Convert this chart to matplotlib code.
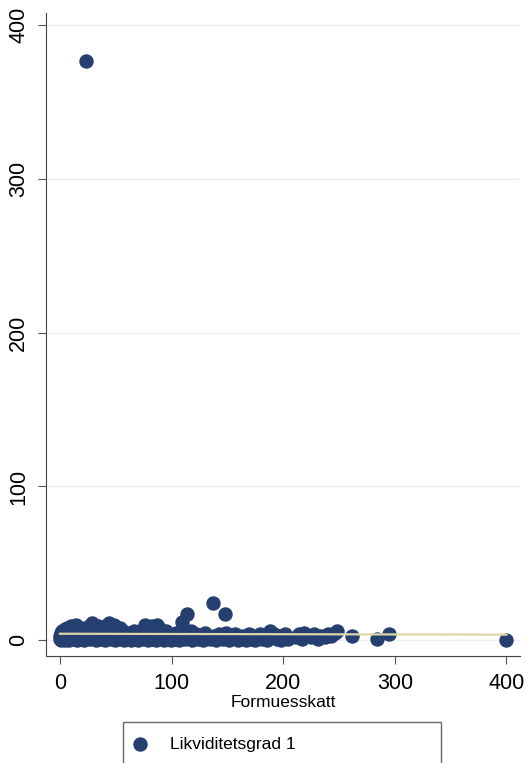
import numpy as np
import matplotlib.pyplot as plt

plt.rcParams['font.family'] = ['Liberation Sans', 'DejaVu Sans']

# Formuesskatt (x) vs Likviditetsgrad 1 (y)
formuesskatt = [0, 0, 1, 1, 2, 2, 3, 3, 4, 4, 5, 5, 6, 6, 7, 8, 8, 9, 10, 10,
                11, 12, 13, 14, 15, 15, 16, 17, 18, 19, 20, 21, 22, 23, 24, 25,
                26, 27, 28, 29, 30, 31, 32, 33, 34, 35, 36, 37, 38, 39, 40, 41,
                42, 43, 44, 45, 46, 47, 48, 49, 50, 51, 52, 53, 54, 55, 56, 57,
                58, 59, 60, 61, 62, 63, 64, 65, 66, 67, 68, 69, 70, 71, 72, 73,
                74, 75, 76, 77, 78, 79, 80, 81, 82, 83, 84, 85, 86, 87, 88, 89,
                90, 91, 92, 93, 94, 95, 96, 97, 98, 99, 100, 102, 104, 105, 107,
                109, 110, 112, 114, 115, 117, 118, 120, 122, 124, 126, 128, 130,
                132, 134, 137, 138, 140, 142, 144, 146, 148, 149, 151, 153, 155,
                157, 159, 161, 163, 165, 167, 169, 171, 173, 175, 177, 179, 181,
                183, 185, 187, 188, 190, 192, 194, 196, 198, 200, 202, 204, 211,
                214, 217, 219, 222, 225, 228, 231, 234, 237, 240, 243, 246, 248,
                262, 284, 295, 400]
likviditet = [1, 3, 0, 5, 2, 6, 1, 4, 0, 7, 2, 5, 1, 8, 3, 0, 6, 2, 4, 9,
              1, 6, 3, 10, 0, 7, 2, 5, 1, 8, 3, 0, 6, 377, 2, 4,
              9, 1, 5, 11, 2, 7, 0, 4, 9, 2, 6, 1, 3, 8, 0, 5,
              10, 2, 11, 6, 1, 4, 10, 0, 7, 3, 5, 1, 8, 2, 6, 0,
              4, 3, 1, 5, 2, 4, 0, 3, 6, 1, 2, 5, 0, 3, 6, 1,
              4, 8, 10, 2, 5, 0, 7, 3, 9, 1, 4, 6, 0, 10, 2, 8,
              4, 1, 5, 0, 3, 6, 1, 2, 4, 0, 3, 1, 5, 2, 0,
              12, 4, 1, 17, 3, 6, 0, 2, 4, 1, 3, 0, 5,
              2, 1, 24, 3, 0, 4, 2, 1, 17, 5, 0, 3, 2,
              4, 0, 1, 3, 2, 0, 4, 1, 3, 0, 2, 4, 1,
              3, 0, 5, 6, 2, 4, 1, 3, 0, 2, 4, 1, 2,
              4, 1, 5, 3, 2, 4, 1, 3, 2, 4, 3, 5, 6,
              3, 1, 4, 0]

# fitted line, as drawn in the picture
fit_x = [0, 400]
fit_y = [4.2, 3.6]

ticks = [0, 100, 200, 300, 400]

fig = plt.figure(figsize=(5.26, 7.63), dpi=100)
ax = fig.add_axes([0.0875, 0.140, 0.902, 0.843])

ax.scatter(formuesskatt, likviditet, s=88, color='#243f70', zorder=3,
           label='Likviditetsgrad 1')
ax.plot(fit_x, fit_y, color='#dcd6a8', lw=1.6, zorder=4)

ax.set_xlim(-12.6, 412.6)
ax.set_ylim(-10.4, 408)
ax.set_xticks(ticks)
ax.set_yticks(ticks)
ax.tick_params(axis='both', labelsize=15.5, length=6, color='#555555', pad=6)
for lbl in ax.get_yticklabels():
    lbl.set_rotation(90)
    lbl.set_va('center')
ax.yaxis.grid(True, color='#eaf0f3', lw=1)
ax.set_axisbelow(True)
ax.spines['top'].set_visible(False)
ax.spines['right'].set_visible(False)
ax.spines['left'].set_color('#444444')
ax.spines['bottom'].set_color('#444444')

ax.set_xlabel('Formuesskatt', fontsize=12.5, labelpad=1)

fig.legend(loc='upper left', bbox_to_anchor=(0.234, -0.02, 0.605, 0.074),
           mode='expand', borderaxespad=0, fancybox=False, edgecolor='#444444',
           fontsize=12.5, handlelength=0.25, handletextpad=1.6, borderpad=0.85,
           markerscale=1.0)

fig.savefig('out.png', dpi=100)
